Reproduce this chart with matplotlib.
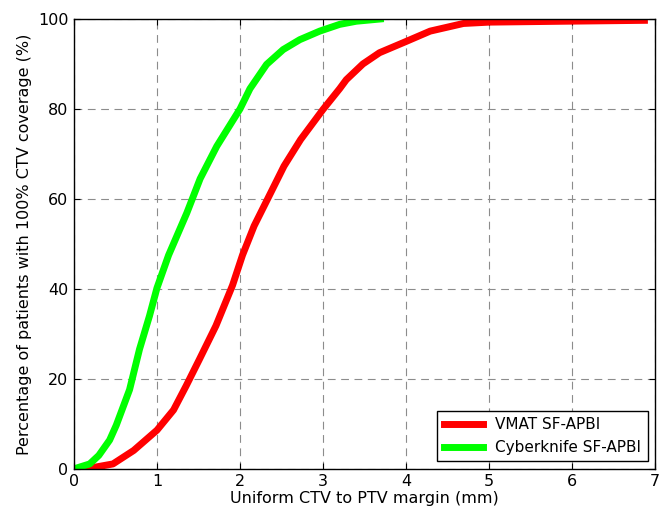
import matplotlib
matplotlib.use('Agg')
import matplotlib.pyplot as plt

# margin (mm) vs percentage of patients with full CTV coverage
vmat_x = [0.0, 0.2, 0.47, 0.72, 1.0, 1.2, 1.35, 1.51, 1.71, 1.91, 2.03, 2.17, 2.33,
          2.53, 2.73, 3.0, 3.2, 3.28, 3.48, 3.68, 4.0, 4.29, 4.69, 5.0, 5.9, 6.87]
vmat_y = [0.0, 0.2, 1.1, 4.1, 8.6, 13.1, 18.4, 24.3, 31.8, 40.8, 47.5, 54.0, 59.9,
          67.3, 73.2, 79.9, 84.5, 86.5, 90.0, 92.5, 95.0, 97.3, 99.0, 99.3, 99.5, 99.7]

cyber_x = [0.0, 0.19, 0.3, 0.43, 0.51, 0.67, 0.79, 0.91, 1.0, 1.14, 1.36, 1.52, 1.72,
           2.0, 2.12, 2.32, 2.52, 2.72, 2.96, 3.2, 3.4, 3.69]
cyber_y = [0.0, 1.1, 3.0, 6.4, 9.7, 17.6, 26.6, 34.0, 40.2, 47.5, 56.9, 64.5, 71.7,
           80.0, 84.5, 89.9, 93.2, 95.4, 97.3, 98.8, 99.5, 100.0]

fig = plt.figure(figsize=(6.72, 5.13), dpi=100)
ax = fig.add_axes([0.110, 0.086, 0.865, 0.877])

ax.plot(vmat_x, vmat_y, color='#ff0000', lw=5, label='VMAT SF-APBI')
ax.plot(cyber_x, cyber_y, color='#00ff00', lw=5, label='Cyberknife SF-APBI')

ax.set_xlim(0, 7)
ax.set_ylim(0, 100)
ax.set_xticks(range(0, 8))
ax.set_yticks(range(0, 101, 20))
ax.grid(True, color='0.55', linestyle=(0, (7, 5)), lw=0.8)
ax.tick_params(direction='in', top=True, right=True, length=4, labelsize=11.5, pad=4)

ax.set_xlabel('Uniform CTV to PTV margin (mm)', fontsize=11.5, labelpad=1)
ax.set_ylabel('Percentage of patients with 100% CTV coverage (%)', fontsize=11.5)

leg = ax.legend(loc='lower right', fontsize=11, fancybox=False, handlelength=2.6,
                framealpha=1, borderaxespad=0.5)
leg.get_frame().set_edgecolor('black')

for s in ax.spines.values():
    s.set_linewidth(1)

plt.savefig('out.png', dpi=100)
plt.close()
